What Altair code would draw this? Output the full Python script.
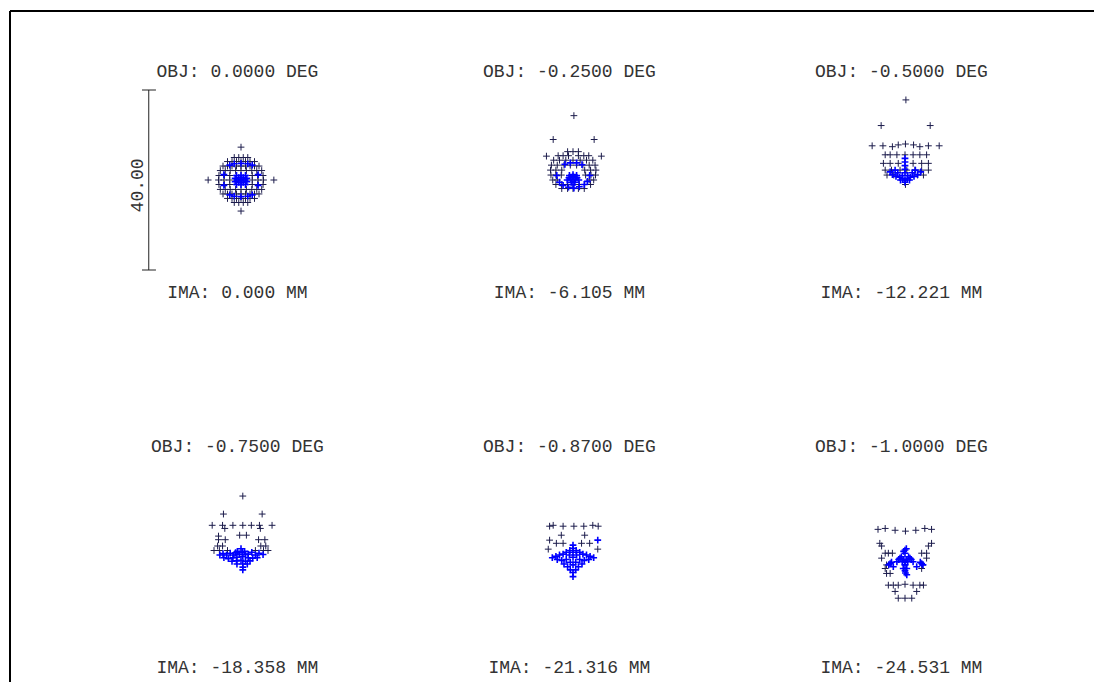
import altair as alt
import pandas as pd

OBJ_LABELS = ["OBJ: 0.0000 DEG", "OBJ: -0.2500 DEG", "OBJ: -0.5000 DEG",
              "OBJ: -0.7500 DEG", "OBJ: -0.8700 DEG", "OBJ: -1.0000 DEG"]
IMA_LABELS = ["IMA: 0.000 MM", "IMA: -6.105 MM", "IMA: -12.221 MM",
              "IMA: -18.358 MM", "IMA: -21.316 MM", "IMA: -24.531 MM"]
SCALE_HALF = 20.0          # scale bar spans 40.00 um
SCALE_LABEL = "40.00"

# ---- spot positions (um); dark crosses and dense blue crosses ----
P1_DARK = [(0, 7.3), (0, -6.9), (-7.3, 0), (7.3, 0),
           (-1.5, 5.0), (-0.5, 5.0), (0.5, 5.0), (1.5, 5.0),
           (-3.0, 4.1), (-2.0, 4.1), (-1.0, 4.1), (0, 4.1), (1.0, 4.1), (2.0, 4.1), (3.0, 4.1),
           (-4.0, 3.1), (-3.0, 3.1), (-2.0, 3.1), (-1.0, 3.1), (0, 3.1), (1.0, 3.1), (2.0, 3.1), (3.0, 3.1), (4.0, 3.1),
           (-4.6, 2.1), (-3.5, 2.1), (-2.4, 2.1), (-1.2, 2.1), (0, 2.1), (1.2, 2.1), (2.4, 2.1), (3.5, 2.1), (4.6, 2.1),
           (-4.9, 1.0), (-3.7, 1.0), (-2.5, 1.0), (2.5, 1.0), (3.7, 1.0), (4.9, 1.0),
           (-5.0, 0), (-3.8, 0), (-2.5, 0), (2.5, 0), (3.8, 0), (5.0, 0),
           (-4.9, -1.0), (-3.7, -1.0), (-2.5, -1.0), (2.5, -1.0), (3.7, -1.0), (4.9, -1.0),
           (-4.6, -2.1), (-3.5, -2.1), (-2.4, -2.1), (-1.2, -2.1), (0, -2.1), (1.2, -2.1), (2.4, -2.1), (3.5, -2.1), (4.6, -2.1),
           (-4.0, -3.1), (-3.0, -3.1), (-2.0, -3.1), (-1.0, -3.1), (0, -3.1), (1.0, -3.1), (2.0, -3.1), (3.0, -3.1), (4.0, -3.1),
           (-3.0, -4.1), (-2.0, -4.1), (-1.0, -4.1), (0, -4.1), (1.0, -4.1), (2.0, -4.1), (3.0, -4.1),
           (-1.5, -5.0), (-0.5, -5.0), (0.5, -5.0), (1.5, -5.0)]
P1_BLUE = [(0, 0), (0.5, 0), (-0.5, 0), (0, 0.5), (0, -0.5), (0.5, 0.5), (-0.5, 0.5), (0.5, -0.5), (-0.5, -0.5),
           (1, 0), (-1, 0), (0, 1), (0, -1), (1, 1), (-1, 1), (1, -1), (-1, -1),
           (1.3, 0.4), (-1.3, 0.4), (1.3, -0.4), (-1.3, -0.4),
           (-2.5, 3.3), (-1.5, 3.6), (0, 3.7), (1.5, 3.6), (2.5, 3.3),
           (-2.5, -3.3), (-1.5, -3.6), (0, -3.7), (1.5, -3.6), (2.5, -3.3),
           (-3.8, 1.2), (-3.8, -1.2), (3.8, 1.2), (3.8, -1.2)]

P2_DARK = [(0.2, 14.3), (-4.4, 9.0), (4.7, 9.0), (-5.9, 5.3), (6.3, 5.3),
           (-1.2, 6.3), (0, 6.3), (1.2, 6.3),
           (-3.3, 5.4), (-2.2, 5.4), (-1.0, 5.4), (1.2, 5.4), (2.4, 5.4), (3.5, 5.4),
           (-4.3, 4.4), (-3.0, 4.4), (-1.6, 4.4), (0, 4.4), (1.6, 4.4), (3.0, 4.4), (4.4, 4.4),
           (-4.8, 3.3), (-3.5, 3.3), (-2.0, 3.3), (-0.6, 3.3), (0.8, 3.3), (2.2, 3.3), (3.6, 3.3), (4.9, 3.3),
           (-5.0, 2.2), (-3.8, 2.2), (-2.5, 2.2), (2.6, 2.2), (3.9, 2.2), (5.1, 2.2),
           (-4.9, 1.1), (-3.8, 1.1), (-2.6, 1.1), (2.8, 1.1), (4.0, 1.1), (5.0, 1.1),
           (-4.5, 0), (-3.5, 0), (3.6, 0), (4.6, 0),
           (-3.8, -1.0), (-2.5, -1.0), (-1.2, -1.0), (1.4, -1.0), (2.6, -1.0), (3.9, -1.0),
           (-2.5, -1.9), (-1.2, -1.9), (0, -1.9), (1.2, -1.9), (2.5, -1.9)]
P2_BLUE = [(0, 0), (0.5, 0.2), (-0.5, 0.2), (0, 0.7), (0.9, 0.5), (-0.9, 0.5), (0.4, -0.5), (-0.4, -0.5),
           (1.3, 0), (-1.3, 0), (0, -1), (0.8, 1.0), (-0.8, 1.0), (0, 1.2),
           (-3.0, -0.5), (-2.2, -1.2), (-1.0, -1.6), (0.2, -1.8), (1.4, -1.5), (2.5, -1.0), (3.2, -0.3),
           (-3.6, 1.0), (3.7, 1.0), (-1.8, 3.5), (-0.6, 3.8), (0.8, 3.8), (2.0, 3.4)]

P3_DARK = [(0.2, 17.8), (-5.3, 12.1), (5.6, 12.1),
           (-7.3, 7.6), (-4.9, 7.6), (-2.8, 7.4), (-1.5, 7.8), (0.1, 8.0), (1.9, 7.8), (3.3, 7.4), (5.2, 7.6), (7.6, 7.6),
           (-4.4, 5.6), (-3.3, 5.6), (-1.8, 5.6), (0, 5.6), (1.8, 5.6), (3.3, 5.6), (4.8, 5.6),
           (-4.8, 3.7), (-3.3, 3.7), (-1.5, 3.7), (1.8, 3.7), (3.7, 3.7), (5.2, 3.7),
           (-4.4, 2.2), (-3.0, 2.2), (-1.1, 2.2), (0.4, 2.2), (2.2, 2.2), (3.7, 2.2), (5.2, 2.2),
           (-4.0, 1.1), (-2.5, 1.1), (2.8, 1.1), (4.1, 1.1), (0.1, -1.0)]
P3_BLUE = [(0, 4.8), (0, 4.0), (0, 3.2), (0, 2.4), (0, 1.6), (-0.6, 1.0), (0.6, 1.0), (-1.2, 0.6), (1.2, 0.6),
           (-2.0, 0.8), (2.0, 0.8), (-2.8, 1.2), (2.8, 1.2), (-1.6, 1.6), (1.6, 1.6), (0, 0), (-0.5, 0.3),
           (0.5, 0.3), (0, -0.5), (-1, 0), (1, 0), (-3.3, 1.8), (3.5, 1.8), (-2.2, 2.2), (2.3, 2.2)]

P4_DARK = [(0.4, 13.1), (-3.9, 9.1), (4.7, 9.1),
           (-6.4, 6.6), (-4.1, 6.6), (-1.8, 6.6), (0.4, 6.6), (2.3, 6.6), (4.1, 6.6), (6.9, 6.6),
           (-3.6, 5.9), (4.3, 5.9), (-0.3, 4.4), (1.2, 4.4), (-5.0, 4.2),
           (-5.0, 3.4), (-3.5, 3.4), (3.9, 3.4), (5.3, 3.4),
           (-5.2, 2.0), (-4.1, 2.0), (4.4, 2.0), (5.5, 2.0),
           (-6.0, 1.0), (-4.8, 1.0), (-3.0, 1.0), (3.2, 1.0), (5.0, 1.0), (6.0, 1.0)]
P4_BLUE = [(-4.7, 0), (-4, 0.3), (-3.2, 0), (-2.4, 0.4), (-1.6, 0), (-0.8, 0.8), (0, 1.4), (0.8, 0.8),
           (1.6, 0.2), (2.4, 0.6), (3.2, 0), (4, 0.4), (4.9, 0.1), (-3.8, -0.6), (-2.8, -0.8), (-1.8, -0.6),
           (-0.9, -0.5), (0.4, -0.3), (1.6, -0.6), (2.6, -0.7), (3.6, -0.6), (-2.0, -1.4), (-1.0, -1.3),
           (0, -1.2), (1.0, -1.4), (2.0, -1.3), (-0.9, -2.0), (0.4, -2.0), (1.4, -2.0), (0.4, -2.7),
           (0.4, -3.3), (-0.4, 0.2), (1.0, 0.1), (-1.2, 0.5), (0.3, 0.6)]

P5_DARK = [(-5.2, 6.4), (-4.4, 6.6), (-2.2, 6.4), (0.2, 6.4), (2.4, 6.4), (4.4, 6.6), (5.6, 6.4),
           (-2.6, 4.4), (2.6, 4.4), (-5.2, 3.3), (-3.7, 2.6), (-2.2, 2.6), (1.9, 2.6), (3.7, 2.6),
           (-5.5, 1.3), (5.5, 1.3)]
P5_BLUE = [(0, 2.2), (0, 1.5), (-0.7, 1.0), (0.7, 1.0), (-1.5, 0.6), (1.5, 0.6), (-2.2, 0.2), (2.2, 0.2),
           (-3.0, 0), (3.0, 0), (-3.8, -0.3), (3.8, -0.3), (-4.6, -0.6), (4.6, -0.6), (-3.5, -1.0),
           (3.5, -1.0), (-2.5, -1.2), (2.5, -1.2), (-1.5, -1.0), (1.5, -1.0), (0, -0.5), (-0.6, -1.6),
           (0.6, -1.6), (-2.0, -2.0), (2.0, -2.0), (-1.2, -2.6), (1.2, -2.6), (0, -2.2), (-0.6, -3.3),
           (0.6, -3.3), (0, -3.9), (0, -4.8), (-0.8, 0.0), (0.8, 0.0), (0, 0.6), (5.5, 3.3)]

P6_DARK = [(-6.0, 5.7), (-4.4, 5.9), (-2.2, 5.5), (0.1, 5.3), (2.4, 5.5), (4.4, 5.9), (5.9, 5.7),
           (-5.6, 2.6), (5.9, 2.6), (-5.2, 2.0), (5.2, 2.0),
           (-4.4, 0.4), (-3.7, 0.4), (-2.8, 0.4), (3.7, 0.4), (4.8, 0.4),
           (-5.2, -0.7), (4.8, -0.7), (-4.1, -2.2), (3.9, -2.2), (-4.4, -3.0), (3.7, -3.0),
           (-4.1, -4.1), (-3.3, -4.1),
           (-3.7, -6.7), (-2.6, -6.7), (-1.5, -6.7), (0, -6.5), (1.8, -6.7), (3.3, -6.7), (4.1, -6.7),
           (-2.2, -8.1), (2.6, -8.1), (-1.5, -9.6), (0, -9.6), (1.5, -9.6)]
P6_BLUE = [(0, 1.1), (0.3, 1.4), (-0.3, 0.8), (0, 0.4), (-1.1, -0.7), (-0.8, -0.4), (-1.4, -1.0),
           (1.1, -0.7), (0.8, -0.4), (1.4, -1.0), (-3.3, -1.9), (-3.0, -1.6), (3.7, -1.9), (3.4, -1.6),
           (0, -2.2), (0.4, -4.4), (0.1, -4.0), (0, -3.5), (-1.8, -1.5), (1.8, -1.5), (-0.6, -1.5),
           (0.6, -1.5), (-2.6, -2.6), (2.6, -2.6), (-0.4, -3.0), (0.4, -3.0),
           (-0.3, -1.1), (0.3, -1.1), (0, -1.5), (-3.6, -2.2), (4.0, -2.2)]

DARK = [P1_DARK, P2_DARK, P3_DARK, P4_DARK, P5_DARK, P6_DARK]
BLUE = [P1_BLUE, P2_BLUE, P3_BLUE, P4_BLUE, P5_BLUE, P6_BLUE]

PW, PH = 332, 290
XS = alt.Scale(domain=[-228 / 4.5, (PW - 228) / 4.5])
YS = alt.Scale(domain=[-(PH - 167) / 4.5, 167 / 4.5])
FONT = "Liberation Mono"
CROSS = "M-1,0L1,0M0,-1L0,1"
TXT = "#333333"


def make_panel(p):
    rows = []
    for kind, pts in (("dark", DARK[p]), ("blue", BLUE[p])):
        for (x, y) in pts:
            rows.append(dict(x=x, y=y, kind=kind, k=len(rows)))
    pts_df = pd.DataFrame(rows)
    spots = alt.Chart(pts_df).mark_point(shape=CROSS, filled=False, size=46, opacity=1).encode(
        x=alt.X("x:Q", scale=XS, axis=None),
        y=alt.Y("y:Q", scale=YS, axis=None),
        color=alt.Color("kind:N", scale=alt.Scale(domain=["dark", "blue"], range=["#1c1c4c", "#0000ff"]),
                        legend=None),
        strokeWidth=alt.StrokeWidth("kind:N", scale=alt.Scale(domain=["dark", "blue"], range=[1.0, 1.6]),
                                    legend=None),
        order=alt.Order("k:Q"),
    )
    lab_df = pd.DataFrame({"cx": [-0.8], "obj": [OBJ_LABELS[p]], "ima": [IMA_LABELS[p]]})
    obj_text = alt.Chart(lab_df).mark_text(font=FONT, fontSize=18, color=TXT, baseline="middle",
                                           align="center").encode(
        x=alt.X("cx:Q", scale=XS, axis=None), y=alt.value(59), text="obj:N")
    ima_text = alt.Chart(lab_df).mark_text(font=FONT, fontSize=18, color=TXT, baseline="middle",
                                           align="center").encode(
        x=alt.X("cx:Q", scale=XS, axis=None), y=alt.value(280), text="ima:N")
    layers = []
    if p == 0:
        frame_df = pd.DataFrame({"a": [0]})
        frame_v = alt.Chart(frame_df).mark_rule(color="#000000", strokeWidth=2).encode(
            x=alt.value(-3), y=alt.value(-2), y2=alt.value(669))
        frame_h = alt.Chart(frame_df).mark_rule(color="#000000", strokeWidth=2).encode(
            x=alt.value(-3), x2=alt.value(1081), y=alt.value(-2))
        bar_df = pd.DataFrame({"bx": [-20.5], "lo": [-SCALE_HALF], "hi": [SCALE_HALF],
                               "t0": [-22.0], "t1": [-18.9], "lx": [-20.9], "ly": [-1.2],
                               "lab": [SCALE_LABEL]})
        bar = alt.Chart(bar_df).mark_rule(color="#222222", strokeWidth=1).encode(
            x=alt.X("bx:Q", scale=XS, axis=None), y=alt.Y("lo:Q", scale=YS, axis=None), y2="hi:Q")
        tick_top = alt.Chart(bar_df).mark_rule(color="#222222", strokeWidth=1).encode(
            x=alt.X("t0:Q", scale=XS, axis=None), x2="t1:Q", y=alt.Y("hi:Q", scale=YS, axis=None))
        tick_bot = alt.Chart(bar_df).mark_rule(color="#222222", strokeWidth=1).encode(
            x=alt.X("t0:Q", scale=XS, axis=None), x2="t1:Q", y=alt.Y("lo:Q", scale=YS, axis=None))
        bar_text = alt.Chart(bar_df).mark_text(font=FONT, fontSize=18, color=TXT, angle=270,
                                               baseline="bottom", align="center").encode(
            x=alt.X("lx:Q", scale=XS, axis=None), y=alt.Y("ly:Q", scale=YS, axis=None), text="lab:N")
        layers += [frame_v, frame_h, bar, tick_top, tick_bot, bar_text]
    layers += [obj_text, ima_text, spots]
    return alt.layer(*layers).properties(width=PW, height=PH)


panels = [make_panel(p) for p in range(6)]
chart = alt.concat(*panels, columns=3, spacing={"row": 85, "column": 0}, bounds="flush").properties(
    padding={"left": 1, "top": 2, "right": 0, "bottom": 0},
    background="white",
).configure_view(stroke=None)

chart.save("out.html", embed_options={"renderer": "svg", "actions": False})
